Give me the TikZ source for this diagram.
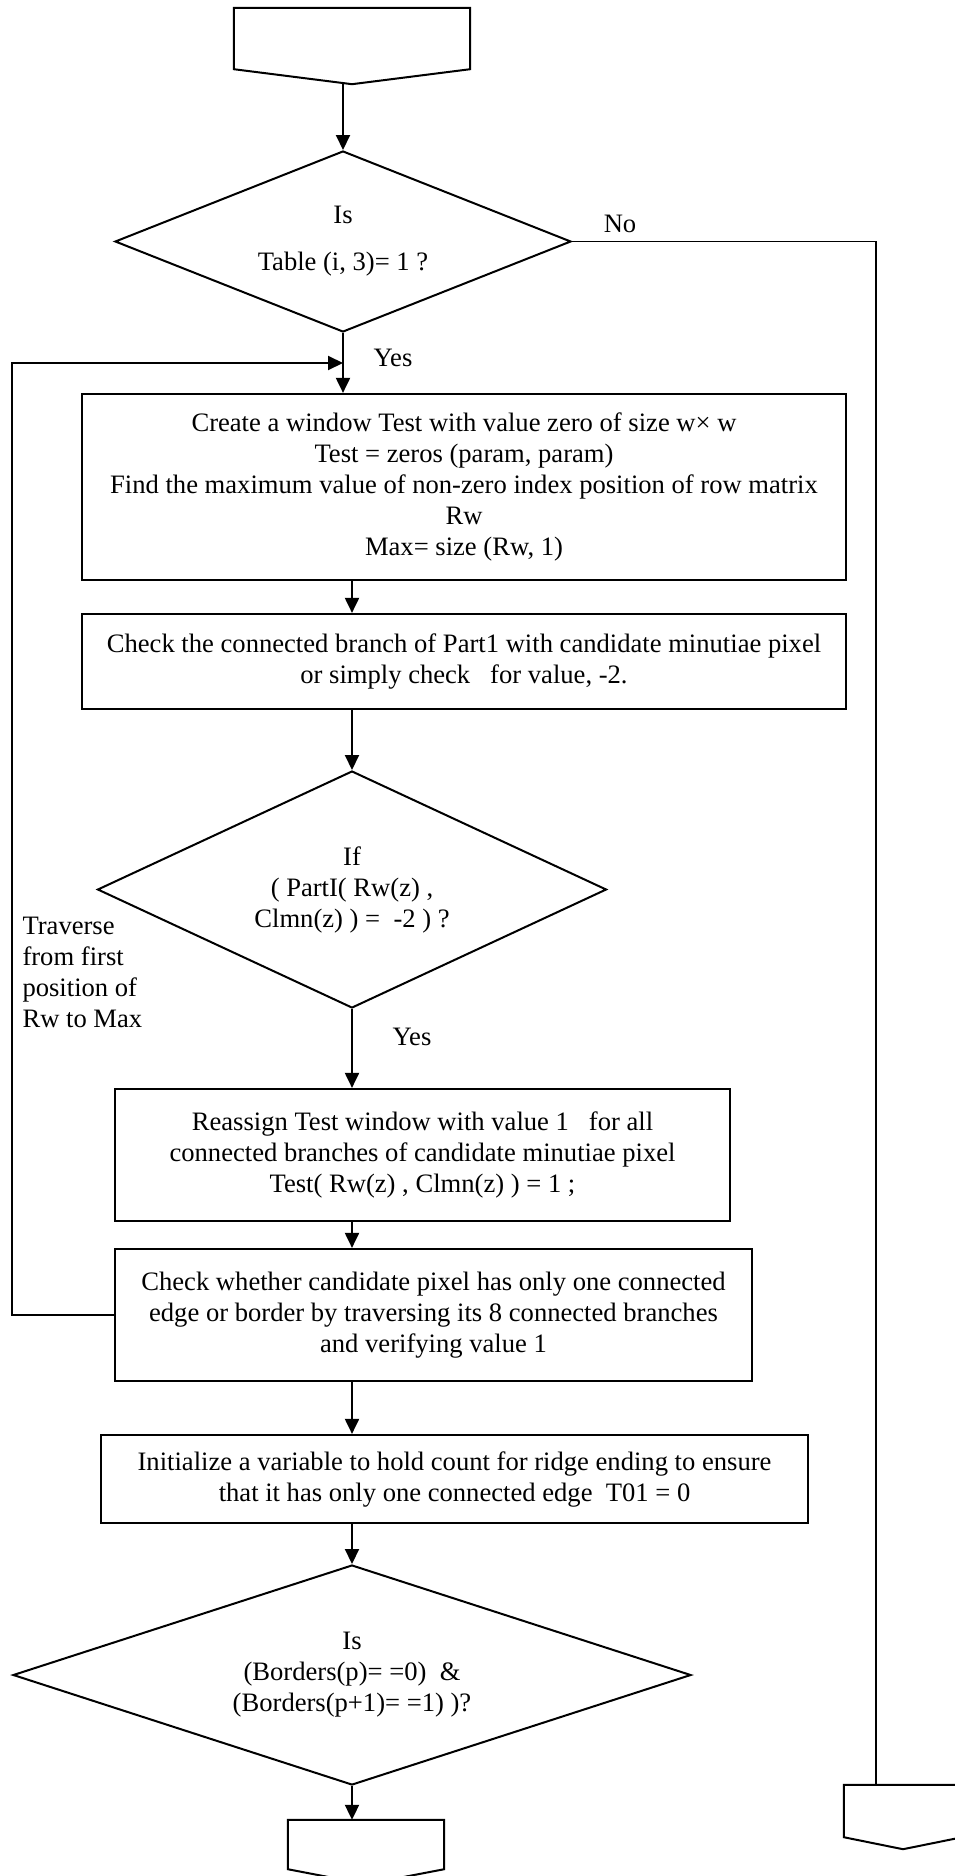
\documentclass[tikz,border=0pt]{standalone}
\usepackage{fontspec}
\setmainfont{Liberation Serif}
\usetikzlibrary{arrows.meta,shapes.geometric}
\begin{document}
\begin{tikzpicture}[x=1pt,y=-1pt,
  every node/.style={font=\fontsize{26.6}{31}\selectfont},
  procbox/.style={draw,line width=2.2pt,rectangle,inner sep=0pt,align=center},
  decision/.style={draw,line width=2pt,diamond,inner sep=0pt,align=center},
  flow/.style={line width=2pt,-{Triangle[length=15pt,width=14pt]}},
  thinline/.style={line width=1.5pt}
]
\useasboundingbox (0,0) rectangle (954,1876);

% off-page connector at the start
\node[rectangle,inner sep=0pt,minimum width=236pt,minimum height=61pt] (start) at (352,38.5) {};
\draw[line width=2pt,line join=miter] (start.north west) -- (start.north east) -- (start.south east)
  -- ([yshift=-15pt]start.south) -- (start.south west) -- cycle;
\coordinate (starttip) at ([yshift=-14pt]start.south);

% first decision
\node[decision,minimum width=456pt,minimum height=181pt,aspect=2.5] (d1) at (343,241.5)
  {Is\\[16pt]Table (i, 3)= 1 ?};

% window creation
\node[procbox,minimum width=764pt,minimum height=186pt] (box1) at (464,487)
  {Create a window Test with value zero of size w× w\\
   Test = zeros (param, param)\\
   Find the maximum value of non-zero index position of row matrix\\
   Rw\\
   Max= size (Rw, 1)};

\node[procbox,minimum width=764pt,minimum height=95pt] (box2) at (464,661.5)
  {Check the connected branch of Part1 with candidate minutiae pixel\\
   or simply check \ \ for value, -2.};

% second decision
\node[decision,minimum width=509pt,minimum height=237pt,aspect=2.15] (d2) at (352,889.5)
  {If\\( PartI( Rw(z) ,\\Clmn(z) ) = \ -2 ) ?};

\node[procbox,minimum width=615pt,minimum height=132pt] (box3) at (422.5,1155)
  {Reassign Test window with value 1 \ \ for all\\
   connected branches of candidate minutiae pixel\\
   Test( Rw(z) , Clmn(z) ) = 1 ;};

\node[procbox,minimum width=637pt,minimum height=132pt] (box4) at (433.5,1315)
  {Check whether candidate pixel has only one connected\\
   edge or border by traversing its 8 connected branches\\
   and verifying value 1};

\node[procbox,minimum width=707pt,minimum height=88pt] (box5) at (454.5,1479)
  {Initialize a variable to hold count for ridge ending to ensure\\
   that it has only one connected edge \ T01 = 0};

% third decision
\node[decision,minimum width=678pt,minimum height=220pt,aspect=3.08] (d3) at (352,1675)
  {Is\\(Borders(p)= =0) \ \&\\(Borders(p+1)= =1) )?};

% off-page connectors at the bottom
\node[rectangle,inner sep=0pt,minimum width=156pt,minimum height=49pt] (endA) at (366,1844.5) {};
\draw[line width=2pt,line join=miter] (endA.north west) -- (endA.north east) -- (endA.south east)
  -- ([yshift=-15pt]endA.south) -- (endA.south west) -- cycle;
\node[rectangle,inner sep=0pt,minimum width=118pt,minimum height=52pt] (endB) at (903,1811) {};
\draw[line width=2pt,line join=miter] (endB.north west) -- (endB.north east) -- (endB.south east)
  -- ([yshift=-12pt]endB.south) -- (endB.south west) -- cycle;

% labels
\node (no) at (620,224) {No};
\node (yes1) at (393,358) {Yes};
\node (yes2) at (412,1037) {Yes};
\node[align=left,anchor=west] (trav) at (19,972)
  {Traverse\\from first\\position of\\Rw to Max};

% connectors
\coordinate (loopin) at (343,363);
\coordinate (loopcorner) at (12,363);
\coordinate (noend) at (876,1785);

\draw[flow] (d1.north |- starttip) -- (d1.north);
\draw[flow] (d1.south) -- (d1.south |- box1.north);
\draw[flow] (d2.north |- box1.south) -- (d2.north |- box2.north);
\draw[flow] (d2.north |- box2.south) -- (d2.north);
\draw[flow] (d2.south) -- (d2.south |- box3.north);
\draw[flow] (d2.south |- box3.south) -- (d2.south |- box4.north);
\draw[flow] (d2.south |- box4.south) -- (d2.south |- box5.north);
\draw[flow] (d3.north |- box5.south) -- (d3.north);
\draw[flow] (d3.south) -- (d3.south |- endA.north);
\draw[flow] (box4.west) -| (loopcorner) -- (loopin);
\draw[thinline] (d1.east) -| (noend);
\end{tikzpicture}
\end{document}
